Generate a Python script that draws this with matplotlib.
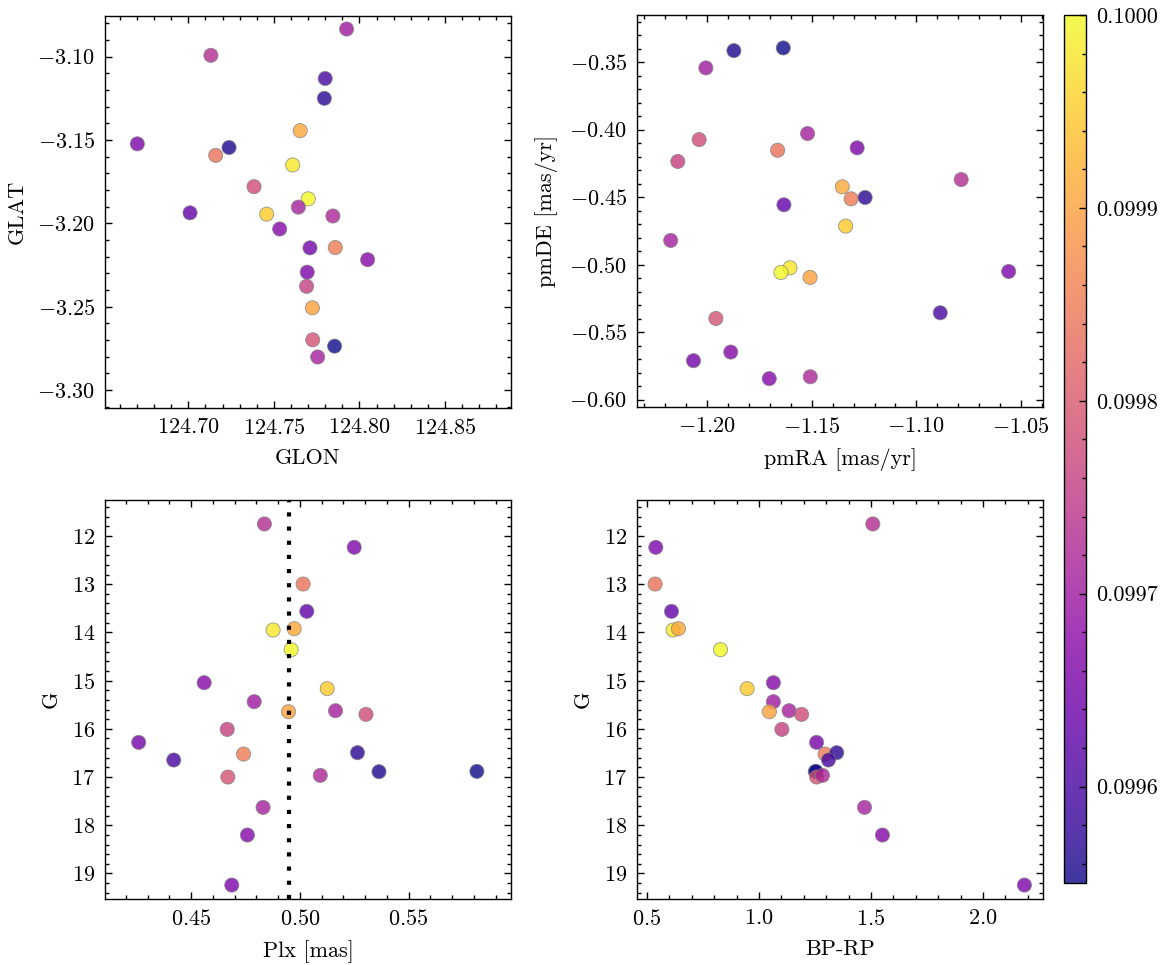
import numpy as np
import matplotlib
matplotlib.use("Agg")
import matplotlib.pyplot as plt
from matplotlib.ticker import FormatStrFormatter, AutoMinorLocator, MultipleLocator

# one entry per star
prob = [0.09973, 0.09966, 0.09984, 0.09963, 0.09998, 0.09991, 0.10000, 0.09967,
        0.09995, 0.09970, 0.09990, 0.09971, 0.09978, 0.09976, 0.09965, 0.09985,
        0.09957, 0.09960, 0.09956, 0.09955, 0.09979, 0.09972, 0.09971, 0.09967,
        0.09966]
gmag = [11.75, 12.235, 12.996, 13.563, 13.950, 13.923, 14.358, 15.043,
        15.167, 15.437, 15.645, 15.624, 15.700, 16.011, 16.281, 16.523,
        16.495, 16.647, 16.889, 16.882, 17.000, 16.965, 17.629, 18.203,
        19.241]
bprp = [1.508, 0.539, 0.536, 0.609, 0.616, 0.640, 0.828, 1.064,
        0.947, 1.064, 1.046, 1.134, 1.190, 1.102, 1.257, 1.295,
        1.347, 1.310, 1.251, 1.254, 1.257, 1.283, 1.471, 1.551,
        2.185]
plx = [0.4837, 0.5250, 0.5015, 0.5032, 0.4877, 0.4974, 0.4960, 0.4560,
       0.5126, 0.4790, 0.4948, 0.5164, 0.5304, 0.4666, 0.4259, 0.4741,
       0.5265, 0.4420, 0.5364, 0.5814, 0.4669, 0.5094, 0.4831, 0.4759,
       0.4687]
glon = [124.7132, 124.6702, 124.7160, 124.7010, 124.7610, 124.7654, 124.7701, 124.7534,
        124.7458, 124.7925, 124.7725, 124.7643, 124.7384, 124.7691, 124.7711, 124.7859,
        124.7795, 124.7800, 124.7238, 124.7855, 124.7727, 124.7845, 124.7756, 124.8048,
        124.7695]
glat = [-3.0992, -3.1523, -3.1592, -3.1937, -3.1650, -3.1444, -3.1853, -3.2034,
        -3.1945, -3.0834, -3.2507, -3.1903, -3.1780, -3.2378, -3.2147, -3.2145,
        -3.1250, -3.1131, -3.1545, -3.2737, -3.2699, -3.1956, -3.2802, -3.2218,
        -3.2293]
pmra = [-1.0786, -1.1283, -1.1663, -1.1633, -1.1604, -1.1354, -1.1647, -1.1887,
        -1.1338, -1.2006, -1.1508, -1.2174, -1.2038, -1.2140, -1.2065, -1.1312,
        -1.1245, -1.0886, -1.1872, -1.1636, -1.1958, -1.1507, -1.1520, -1.1703,
        -1.0559]
pmde = [-0.4369, -0.4134, -0.4152, -0.4556, -0.5023, -0.4423, -0.5057, -0.5647,
        -0.4714, -0.3542, -0.5094, -0.4820, -0.4073, -0.4235, -0.5711, -0.4512,
        -0.4502, -0.5356, -0.3414, -0.3394, -0.5398, -0.5830, -0.4028, -0.5844,
        -0.5050]

plt.rcParams['font.family'] = 'serif'
plt.rcParams['font.serif'] = ['cmr10']
plt.rcParams['mathtext.fontset'] = 'cm'
plt.rcParams['axes.formatter.use_mathtext'] = True
plt.rcParams['font.size'] = 8
plt.rcParams['axes.linewidth'] = 0.5
plt.rcParams['axes.unicode_minus'] = True

W, H = 1166, 965
fig = plt.figure(figsize=(W / 200, H / 200), dpi=200)


def box(l, r, t, b):
    return [l / W, 1 - b / H, (r - l) / W, (b - t) / H]


ax_tl = fig.add_axes(box(105, 511, 16, 408))
ax_tr = fig.add_axes(box(637, 1043, 15, 407))
ax_bl = fig.add_axes(box(105, 511, 500, 899))
ax_br = fig.add_axes(box(637, 1043, 500, 899))
cax = fig.add_axes(box(1064, 1086, 15, 883))

vmin, vmax = min(prob), max(prob)
kw = dict(c=prob, cmap='plasma', vmin=vmin, vmax=vmax, s=26, alpha=0.8,
          edgecolors='grey', linewidths=0.3)

sc = ax_tl.scatter(glon, glat, **kw)
ax_tl.set_xlim(124.6513, 124.8886)
ax_tl.set_ylim(-3.3108, -3.0756)
ax_tl.set_xlabel('GLON')
ax_tl.set_ylabel('GLAT')

ax_tr.scatter(pmra, pmde, **kw)
ax_tr.set_xlim(-1.2335, -1.0395)
ax_tr.set_ylim(-0.6054, -0.315)
ax_tr.set_xlabel('pmRA [mas/yr]')
ax_tr.set_ylabel('pmDE [mas/yr]')

ax_bl.scatter(plx, gmag, **kw)
ax_bl.axvline(np.median(plx), color='k', lw=1.5, ls=(0, (1, 2.4)))
ax_bl.set_xlim(0.4104, 0.5971)
ax_bl.set_ylim(19.53, 11.253)
ax_bl.set_xlabel('Plx [mas]')
ax_bl.set_ylabel('G')

ax_br.scatter(bprp, gmag, **kw)
ax_br.set_xlim(0.455, 2.268)
ax_br.set_ylim(19.53, 11.253)
ax_br.set_xlabel('BP-RP')
ax_br.set_ylabel('G')

for ax in (ax_bl, ax_br):
    ax.yaxis.set_major_locator(MultipleLocator(1))

for ax in (ax_tl, ax_tr, ax_bl, ax_br):
    ax.ticklabel_format(useOffset=False)
    ax.xaxis.set_minor_locator(AutoMinorLocator(5))
    ax.yaxis.set_minor_locator(AutoMinorLocator(5))
    ax.tick_params(which='both', direction='in', top=True, right=True, width=0.5)
    ax.tick_params(which='major', length=2.6)
    ax.tick_params(which='minor', length=1.3)

cbar = fig.colorbar(sc, cax=cax)
cbar.outline.set_linewidth(0.5)
cbar.set_ticks([0.0996, 0.0997, 0.0998, 0.0999, 0.1000])
cbar.ax.yaxis.set_major_formatter(FormatStrFormatter('%.4f'))
cbar.minorticks_on()
cbar.ax.yaxis.set_minor_locator(AutoMinorLocator(5))
cax.tick_params(which='both', direction='in', width=0.5)
cax.tick_params(which='major', length=2.6)
cax.tick_params(which='minor', length=1.3)

fig.savefig('out.png', dpi=200)
